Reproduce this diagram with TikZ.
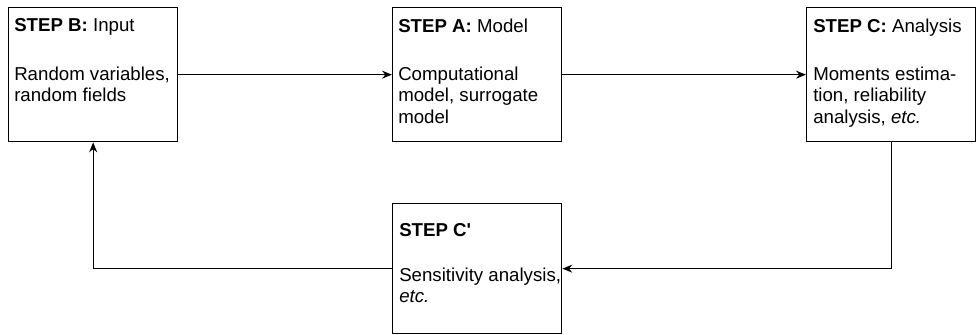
\documentclass[tikz,border=0pt]{standalone}
\usepackage{fontspec}
\setmainfont{Liberation Sans}[Ligatures=TeXOff]
\usetikzlibrary{arrows.meta}
\tikzset{
  stepbox/.style={rectangle, draw=black, line width=1pt, minimum width=126.75pt, minimum height=100.5pt, anchor=north west, inner sep=0pt},
  steptext/.style={anchor=north west, inner sep=0pt, align=left, font=\fontsize{14}{16.1}\selectfont},
  line/.style={draw, line width=0.8pt, -{Stealth[length=7.5pt,width=6pt,inset=2.5pt]}},
}

\begin{document}
\begin{tikzpicture}[x=0.75pt, y=-0.75pt]
  \useasboundingbox (0,0) rectangle (978,335);
  % boxes
  \node[stepbox] (B) at (8,7) {};
  \node[stepbox] (A) at (392,7) {};
  \node[stepbox] (C) at (806,7) {};
  \node[stepbox, minimum height=97.5pt] (Cp) at (392,203) {};
  % texts
  \node[steptext] (Btxt) at (14,18.6) {\textbf{STEP B:} Input\\[20pt] Random variables,\\ random fields};
  \node[steptext] (Atxt) at (398,18.6) {\textbf{STEP A:} Model\\[20pt] Computational\\ model, surrogate\\ model};
  \node[steptext] (Ctxt) at (813,18.6) {\textbf{STEP C:} Analysis\\[20pt] Moments estima-\\ tion, reliability\\ analysis, \textit{etc.}};
  \node[steptext] (Cptxt) at (399,223.6) {\textbf{STEP C'}\\[17pt] Sensitivity analysis,\\ \textit{etc.}};
  % connectors
  \draw[line] (B) -- (A);
  \draw[line] (A) -- (C);
  \draw[line] (C.south) |- (Cp.east);
  \draw[line] (Cp.west) -| (B.south);
\end{tikzpicture}
\end{document}
